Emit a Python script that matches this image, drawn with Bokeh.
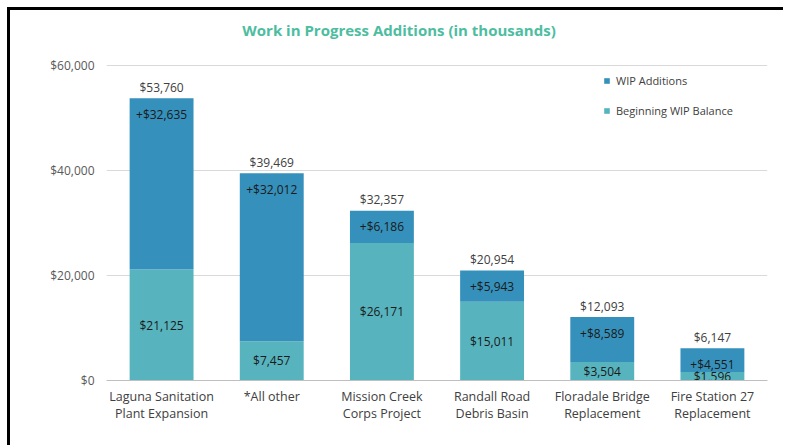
import numpy as np
from bokeh.plotting import figure
from bokeh.models import (Range1d, FixedTicker, NumeralTickFormatter, Legend, LegendItem,
                          ColumnDataSource)
from bokeh.core.properties import value
from bokeh.embed import file_html
from bokeh.resources import INLINE

# ---- data ----
categories = ["Laguna Sanitation\nPlant Expansion", "*All other", "Mission Creek\nCorps Project",
              "Randall Road\nDebris Basin", "Floradale Bridge\nReplacement", "Fire Station 27\nReplacement"]
beginning = [21125, 7457, 26171, 15011, 3504, 1596]
additions = [32635, 32012, 6186, 5943, 8589, 4551]
y_ticks = [0, 20000, 40000, 60000]
series_names = ["WIP Additions", "Beginning WIP Balance"]
title_text = "Work in Progress Additions (in thousands)"

# ---- styles ----
FONT = "Open Sans"
C_ADD = "#3591BB"
C_BEG = "#57B4BE"
C_TITLE = "#4DBD9F"

idx = list(range(len(categories)))
totals = [b + a for b, a in zip(beginning, additions)]

src = ColumnDataSource(dict(
    x=idx, beg=beginning, add=additions, tot=totals,
    beg_mid=[b / 2 for b in beginning],
    beg_lbl=[f"${v:,}" for v in beginning],
    add_lbl=[f"+${v:,}" for v in additions],
    tot_lbl=[f"${v:,}" for v in totals],
))

W, H = 776, 438
px_per_unit = 105 / 20000.0
frame_h = 370
p = figure(width=W, height=H, output_backend="svg", toolbar_location=None,
           x_range=Range1d(-0.5, len(categories) - 0.5),
           y_range=Range1d(0, frame_h / px_per_unit),
           min_border_left=96, min_border_right=19, min_border_top=0, min_border_bottom=H - frame_h)
p.outline_line_color = None
p.background_fill_color = "white"
p.border_fill_color = "white"
p.styles = {"box-shadow": "-3px -3px 0px 0px black",
            "margin-top": "10px", "margin-left": "10px"}

bw = 0.58
r_beg = p.vbar(x="x", top="beg", bottom=0, width=bw, fill_color=C_BEG, line_color=None, source=src)
r_add = p.vbar(x="x", top="tot", bottom="beg", width=bw, fill_color=C_ADD, line_color=None, source=src)

# labels
p.text(x="x", y="tot", text="tot_lbl", source=src, y_offset=-11, text_align="center",
       text_baseline="middle", text_font=value(FONT), text_font_size="12px", text_color="#404040")
p.text(x="x", y="tot", text="add_lbl", source=src, y_offset=16, text_align="center",
       text_baseline="middle", text_font=value(FONT), text_font_size="12px", text_color="#1a1a1a")
p.text(x="x", y="beg_mid", text="beg_lbl", source=src, text_align="center",
       text_baseline="middle", text_font=value(FONT), text_font_size="12px", text_color="#1a1a1a")

# title
p.text(x=[(len(categories) - 1) / 2], y=[frame_h / px_per_unit], text=[title_text],
       x_offset=-38, y_offset=19, text_align="center", text_baseline="middle",
       text_font=value(FONT), text_font_size="15px", text_font_style="bold", text_color=C_TITLE)

# grid
p.xgrid.visible = False
p.ygrid.ticker = FixedTicker(ticks=y_ticks)
p.ygrid.grid_line_color = "#d9d9d9"

# y axis
p.yaxis.ticker = FixedTicker(ticks=y_ticks)
p.yaxis.formatter = NumeralTickFormatter(format="$0,0")
p.yaxis.axis_line_color = None
p.yaxis.major_tick_line_color = None
p.yaxis.minor_tick_line_color = None
p.yaxis.major_label_standoff = 6
p.yaxis.major_label_text_font = FONT
p.yaxis.major_label_text_font_size = "12px"
p.yaxis.major_label_text_color = "#595959"

# x axis
p.xaxis.ticker = FixedTicker(ticks=idx)
p.xaxis.major_label_overrides = {i: c for i, c in zip(idx, categories)}
p.xaxis.axis_line_color = "#bfbfbf"
p.xaxis.major_tick_line_color = None
p.xaxis.minor_tick_line_color = None
p.xaxis.major_label_standoff = 1
p.xaxis.major_label_text_font = FONT
p.xaxis.major_label_text_font_size = "12.5px"
p.xaxis.major_label_text_line_height = 1.05
p.xaxis.major_label_text_color = "#404040"

legend = Legend(items=[LegendItem(label=series_names[0], renderers=[r_add]),
                       LegendItem(label=series_names[1], renderers=[r_beg])],
                location=(497, 262), orientation="vertical", glyph_width=7, glyph_height=7,
                label_height=14, spacing=15, padding=0, margin=0, border_line_color=None,
                background_fill_alpha=0, label_text_font=FONT, label_text_font_size="11px",
                label_text_color="#404040", label_standoff=6)
p.add_layout(legend)

open("out.html", "w").write(file_html(p, INLINE))
